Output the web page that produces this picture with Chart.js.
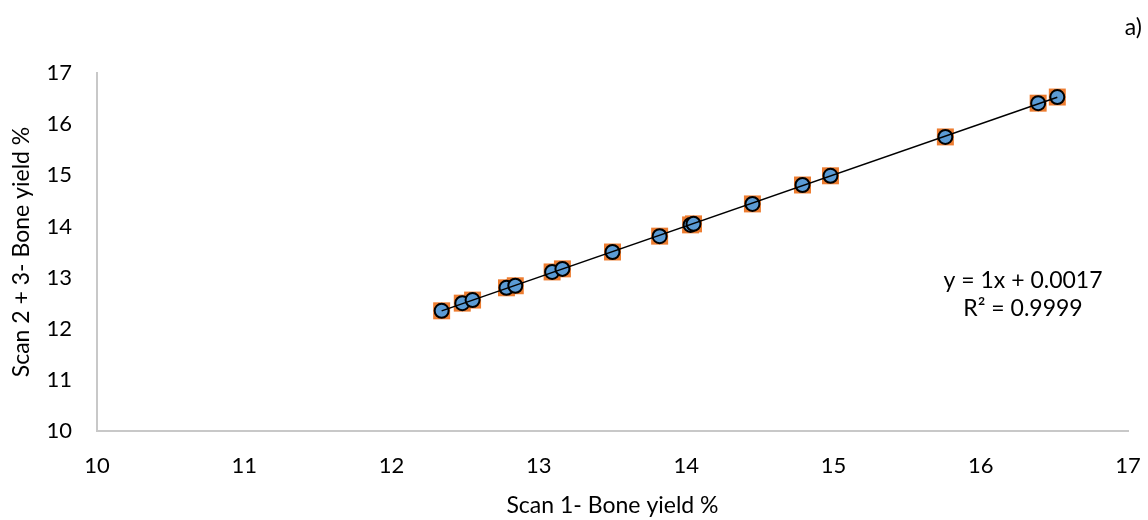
<!DOCTYPE html>
<html>
<head>
<meta charset="utf-8">
<script src="https://cdn.jsdelivr.net/npm/chart.js@4"></script>
<style>
  html, body { margin: 0; padding: 0; background: #fff; }
  #wrap { width: 1148px; height: 520px; position: relative; }
</style>
</head>
<body>
<div id="wrap"><canvas id="scanChart"></canvas></div>
<script>
// scan 1 vs scan 2+3 bone yield (%)
const scan1 = [12.34, 12.48, 12.55, 12.78, 12.84, 13.09, 13.16, 13.50, 13.82, 14.03, 14.05, 14.45, 14.79, 14.98, 15.76, 16.39, 16.52];
const scan23 = [12.35, 12.50, 12.56, 12.80, 12.84, 13.11, 13.17, 13.50, 13.81, 14.03, 14.05, 14.44, 14.81, 14.99, 15.75, 16.41, 16.53];
const axisTicks = [10, 11, 12, 13, 14, 15, 16, 17];
const eqLines = ['y = 1x + 0.0017', 'R² = 0.9999'];

const pts = scan1.map((x, i) => ({ x: x, y: scan23[i] }));

// linear trend from the points
const n = scan1.length;
const mx = scan1.reduce((a, b) => a + b, 0) / n;
const my = scan23.reduce((a, b) => a + b, 0) / n;
let sxy = 0, sxx = 0;
scan1.forEach((x, i) => { sxy += (x - mx) * (scan23[i] - my); sxx += (x - mx) * (x - mx); });
const slope = sxy / sxx;
const icpt = my - slope * mx;
const xMin = Math.min(...scan1), xMax = Math.max(...scan1);
const trend = [{ x: xMin, y: icpt + slope * xMin }, { x: xMax, y: icpt + slope * xMax }];

const FONT = 'Lato, "Open Sans", sans-serif';

// equation + panel letter
const textPlugin = {
    id: 'extraText',
    afterDraw(chart) {
        const ctx = chart.ctx;
        ctx.save();
        ctx.fillStyle = '#000';
        ctx.font = '23px ' + FONT;
        ctx.textAlign = 'center';
        ctx.textBaseline = 'middle';
        ctx.fillText(eqLines[0], 1023, 281);
        ctx.fillText(eqLines[1], 1023, 309);
        ctx.textAlign = 'right';
        ctx.fillText('a)', 1142, 28);
        ctx.restore();
    }
};

new Chart(document.getElementById('scanChart'), {
    type: 'scatter',
    data: {
        datasets: [{
            type: 'line',
            data: trend,
            borderColor: '#000',
            borderWidth: 1.5,
            pointRadius: 0,
            fill: false,
            order: 0
        }, {
            data: pts,
            pointStyle: 'circle',
            pointRadius: 7,
            pointBackgroundColor: '#5B9BD5',
            pointBorderColor: '#000',
            pointBorderWidth: 2,
            order: 1
        }, {
            data: pts,
            pointStyle: 'rect',
            pointRadius: 12,
            pointBackgroundColor: '#ED7D31',
            pointBorderColor: '#ED7D31',
            pointBorderWidth: 0,
            order: 2
        }]
    },
    options: {
        responsive: true,
        maintainAspectRatio: false,
        animation: false,
        layout: { padding: { top: 73, right: 20, left: 0, bottom: 0 } },
        plugins: {
            legend: { display: false },
            tooltip: { enabled: false }
        },
        scales: {
            x: {
                min: 10, max: 17,
                afterBuildTicks: s => { s.ticks = axisTicks.map(v => ({ value: v })); },
                afterFit: s => { s.height = 89; s.paddingLeft = 0; s.paddingRight = 0; },
                grid: { display: false, drawTicks: false },
                border: { display: true, color: '#C8C8C8', width: 2 },
                ticks: { color: '#000', font: { family: FONT, size: 22 }, padding: 22 },
                title: { display: true, text: 'Scan 1- Bone yield %', color: '#000', font: { family: FONT, size: 23 }, padding: { top: 4, bottom: 1 } }
            },
            y: {
                min: 10, max: 17,
                afterBuildTicks: s => { s.ticks = axisTicks.map(v => ({ value: v })); },
                afterFit: s => { s.width = 97; s.paddingTop = 0; s.paddingBottom = 0; },
                grid: { display: false, drawTicks: false },
                border: { display: true, color: '#C8C8C8', width: 2 },
                ticks: { color: '#000', font: { family: FONT, size: 22 }, padding: 25 },
                title: { display: true, text: 'Scan 2 + 3- Bone yield %', color: '#000', font: { family: FONT, size: 23 }, padding: { top: 8, bottom: 4 } }
            }
        }
    },
    plugins: [textPlugin]
});
</script>
</body>
</html>
